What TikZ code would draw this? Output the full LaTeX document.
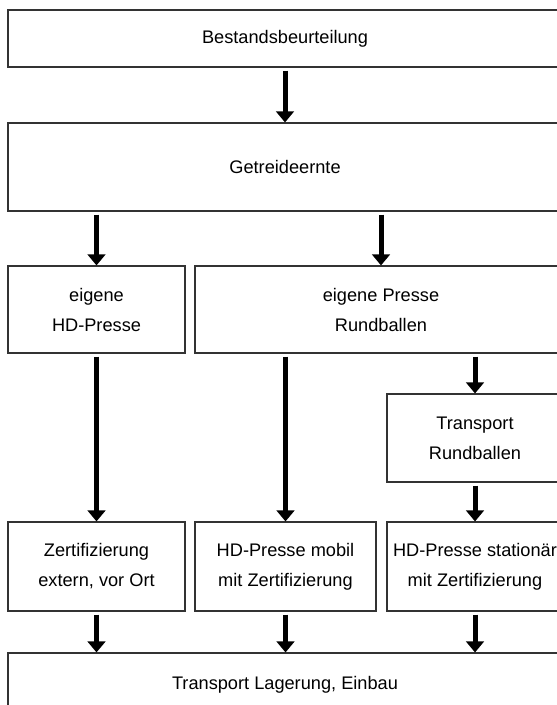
\documentclass[tikz,border=0pt]{standalone}
\usepackage{fontspec}
\setmainfont{Liberation Sans}
\usetikzlibrary{arrows.meta}

\tikzset{
    box/.style = {draw=black!80, line width=1.1pt, inner sep=0pt, align=center,
                  font=\fontsize{18.2pt}{30pt}\selectfont},
    pfeil/.style = {line width=5pt, -{Triangle[width=17.5pt, length=11pt]}, shorten <=3pt}
}

\begin{document}
\begin{tikzpicture}[x=1pt, y=-1pt]
            \useasboundingbox (0,0) rectangle (557,705);
            \clip (0,0) rectangle (557,705);

            % erste Ebene
            \node[box, minimum width=554, minimum height=57] (best) at (285,38.5) {Bestandsbeurteilung};
            \node[box, minimum width=554, minimum height=88] (ernte) at (285,167) {Getreideernte};

            % Pressen
            \node[box, minimum width=177, minimum height=87] (hdeigen) at (96.5,309.5) {eigene\\HD-Presse};
            \node[box, minimum width=372, minimum height=87] (rund) at (381,309.5) {eigene Presse\\Rundballen};
            \node[box, minimum width=176, minimum height=88] (trans) at (475,438) {Transport\\Rundballen};

            % Zertifizierung
            \node[box, minimum width=177, minimum height=89] (zert) at (96.5,566.5) {Zertifizierung\\extern, vor Ort};
            \node[box, minimum width=181, minimum height=89] (mobil) at (285.5,566.5) {HD-Presse mobil\\mit Zertifizierung};
            \node[box, minimum width=176, minimum height=89] (stat) at (475,566.5) {HD-Presse stationär\\mit Zertifizierung};

            \node[box, minimum width=554, minimum height=63] (lager) at (285,684.5) {Transport Lagerung, Einbau};

            % Pfeile
            \draw[pfeil] (best) -- (ernte);
            \draw[pfeil] (ernte.south -| hdeigen.north) -- (hdeigen.north);
            \draw[pfeil] (ernte.south -| rund.north) -- (rund.north);
            \draw[pfeil] (hdeigen) -- (zert);
            \draw[pfeil] (rund.south -| mobil.north) -- (mobil.north);
            \draw[pfeil] (rund.south -| trans.north) -- (trans.north);
            \draw[pfeil] (trans) -- (stat);
            \draw[pfeil] (zert.south) -- (zert.south |- lager.north);
            \draw[pfeil] (mobil.south) -- (mobil.south |- lager.north);
            \draw[pfeil] (stat.south) -- (stat.south |- lager.north);
\end{tikzpicture}
\end{document}
